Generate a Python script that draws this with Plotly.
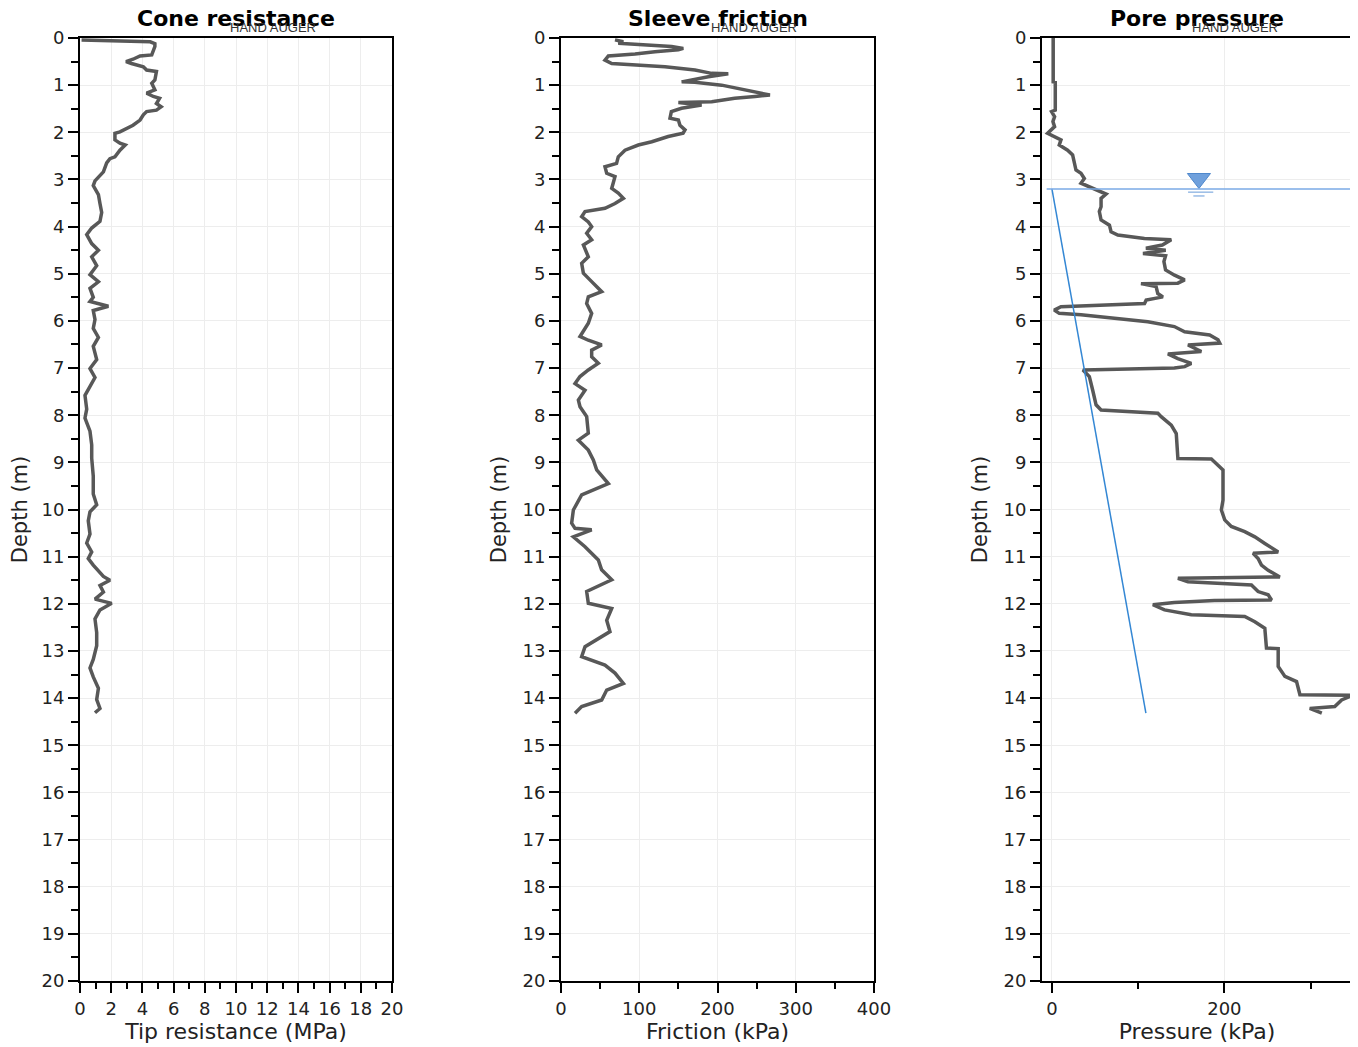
import plotly.graph_objects as go

# ---------------- data ----------------
CONE_DEPTH = [0.04, 0.06, 0.08, 0.12, 0.18, 0.36, 0.38, 0.45, 0.50, 0.54, 0.61, 0.68, 0.71, 0.89, 0.96,
              1.10, 1.17, 1.24, 1.28, 1.39, 1.46, 1.53, 1.56, 1.63, 1.74, 1.85, 1.92, 1.99, 2.02, 2.16,
              2.23, 2.27, 2.38, 2.52, 2.56, 2.65, 2.84, 3.03, 3.13, 3.32, 3.51, 3.70, 3.89, 4.03, 4.17,
              4.36, 4.50, 4.64, 4.83, 5.02, 5.17, 5.31, 5.50, 5.59, 5.69, 5.78, 5.97, 6.16, 6.35, 6.54,
              6.82, 7.01, 7.20, 7.39, 7.58, 7.87, 8.06, 8.34, 8.63, 8.91, 9.29, 9.67, 9.90, 10.05, 10.24,
              10.52, 10.71, 10.90, 11.04, 11.18, 11.42, 11.50, 11.61, 11.75, 11.90, 11.99, 12.13, 12.32,
              12.61, 12.89, 13.18, 13.36, 13.55, 13.79, 14.03, 14.22, 14.31]
CONE_QC = [0.1, 2.0, 4.5, 4.8, 4.8, 4.6, 3.85, 3.4, 2.95, 3.3, 4.06, 4.27, 4.9, 4.8, 4.6,
           4.8, 4.27, 4.7, 5.1, 4.9, 5.2, 4.9, 4.27, 4.06, 3.85, 3.4, 3.0, 2.56, 2.24, 2.24,
           2.56, 2.9, 2.56, 2.24, 1.92, 1.71, 1.5, 0.96, 0.85, 1.18, 1.28, 1.39, 1.28, 0.75, 0.43,
           0.75, 1.18, 0.75, 1.07, 0.64, 1.18, 0.64, 0.85, 0.64, 1.82, 0.85, 0.96, 0.85, 1.18, 0.85,
           1.07, 0.64, 0.96, 0.64, 0.32, 0.43, 0.32, 0.64, 0.75, 0.75, 0.85, 0.85, 1.07, 0.64, 0.53,
           0.64, 0.43, 0.75, 0.53, 0.85, 1.5, 1.92, 1.28, 1.5, 0.96, 2.03, 1.28, 0.96,
           1.07, 1.07, 0.85, 0.64, 0.85, 1.18, 1.07, 1.28, 0.96]

SLEEVE_DEPTH = [0.04, 0.08, 0.11, 0.15, 0.18, 0.22, 0.25, 0.29, 0.34, 0.38, 0.47, 0.54, 0.57, 0.61, 0.68,
                0.75, 0.76, 0.82, 0.93, 0.94, 1.00, 1.10, 1.14, 1.21, 1.24, 1.28, 1.35, 1.37, 1.42, 1.49,
                1.56, 1.70, 1.74, 1.85, 1.95, 2.02, 2.09, 2.20, 2.27, 2.38, 2.52, 2.66, 2.73, 2.87, 2.94,
                3.08, 3.19, 3.29, 3.40, 3.51, 3.61, 3.68, 3.79, 3.90, 4.00, 4.14, 4.28, 4.39, 4.64, 4.78,
                4.99, 5.13, 5.38, 5.49, 5.63, 5.84, 6.05, 6.33, 6.41, 6.51, 6.62, 6.76, 6.90, 7.04, 7.18,
                7.33, 7.47, 7.68, 7.82, 8.03, 8.38, 8.53, 8.74, 8.95, 9.16, 9.45, 9.69, 10.01, 10.29,
                10.40, 10.43, 10.58, 10.79, 11.07, 11.28, 11.49, 11.74, 11.99, 12.10, 12.35, 12.59,
                12.91, 13.12, 13.30, 13.47, 13.69, 13.83, 14.04, 14.18, 14.32]
SLEEVE_FS = [69, 79.6, 73.2, 115.9, 141.4, 156.3, 150, 120, 94.6, 60.5, 56.2, 64.8, 98.8, 132.9, 171.2,
             192.6, 213.8, 188.3, 154.2, 171, 205.3, 235, 248, 267, 248, 222, 192.6, 150, 179.7, 154,
             141, 139.3, 150, 152, 158.5, 156, 137, 116, 98.8, 81.8, 73.2, 71, 56.2, 58.4, 69,
             66.9, 64.8, 73.2, 79.7, 69, 56.2, 30.7, 26.4, 34.9, 39.2, 32.8, 39.2, 28.6, 34.9, 26.4,
             28.6, 37, 52, 34.9, 32.8, 39.2, 34.9, 24.3, 34.9, 52, 39.2, 39.2, 47.7, 34.9, 24.3,
             17.9, 30.7, 22.2, 24.3, 32.8, 34.9, 22.2, 34.9, 41.3, 45.6, 60.5, 26.4, 15.8, 13.6,
             17.9, 39.2, 15.8, 30.7, 47.7, 51.9, 64.8, 32.8, 34.9, 64.8, 58.4, 62.6,
             30.7, 26.4, 56.2, 69, 79.7, 58.4, 52, 26.4, 17.9]

PORE_DEPTH = [0.00, 0.93, 0.94, 1.53, 1.56, 1.67, 1.77, 1.88, 2.02, 2.09, 2.16, 2.27, 2.38, 2.48, 2.62,
              2.80, 2.87, 2.98, 3.08, 3.17, 3.22, 3.31, 3.40, 3.58, 3.68, 3.86, 3.97, 4.11, 4.18, 4.25,
              4.28, 4.39, 4.46, 4.50, 4.57, 4.62, 4.74, 4.92, 5.03, 5.13, 5.20, 5.21, 5.27, 5.42, 5.49,
              5.56, 5.63, 5.66, 5.70, 5.77, 5.84, 5.87, 6.02, 6.12, 6.23, 6.30, 6.40, 6.47, 6.51, 6.65,
              6.70, 6.80, 6.90, 6.97, 7.00, 7.04, 7.18, 7.47, 7.78, 7.89, 7.96, 8.03, 8.21, 8.39, 8.81,
              8.92, 8.93, 9.06, 9.16, 9.80, 10.01, 10.22, 10.36, 10.47, 10.58, 10.72, 10.90, 10.93, 11.04,
              11.18, 11.29, 11.43, 11.46, 11.53, 11.60, 11.74, 11.81, 11.92, 11.93, 11.97, 12.02, 12.13,
              12.23, 12.27, 12.38, 12.52, 12.94, 12.95, 13.33, 13.54, 13.65, 13.93, 13.94, 14.04, 14.18,
              14.22, 14.32]
PORE_U2 = [1.5, 1.5, 3.9, 3.9, -0.4, 3.1, 1.2, 3.1, -5, 3.1, 10.5, 8.5, 18.2, 24, 25.9,
           27.9, 33.7, 37.6, 33.7, 45.3, 53, 62.8, 57, 57, 55, 57, 66.7, 68.6, 76.4, 107.3,
           138.4, 128, 109, 132, 105.6, 131.8, 129.9, 131.8, 142.2, 153.9, 146, 103.3, 120.8, 122.8, 128.7,
           109.3, 107.4, 57, 10.5, 2.7, 8.5, 33.7, 111.2, 142, 153.9, 182.9, 192.6, 194.6, 157.8, 173.3,
           134.5, 146, 161.6, 153.9, 142, 36, 43.4, 47.3, 51.2, 57, 122.9, 126.7, 138.4, 144.2, 146.1,
           146.1, 184.9, 192.6, 198.4, 198.4, 196.5, 200.4, 208, 223.6, 235.3, 246.9, 262.4, 233.3, 239.1,
           243, 250.8, 264.3, 146.1, 157.7, 231.4, 239.1, 250.8, 254.7, 188.4, 141.9, 117.1, 130.6,
           161.6, 223.6, 235.3, 246.9, 248.8, 262.4, 262.4, 270.2, 283.7, 287.6, 349, 336, 328,
           299, 313]

WATER_TABLE_DEPTH = 3.2
HYDRO_DEPTH = [3.2, 14.32]
HYDRO_U = [0.0, 109.0]
WT_SYMBOL_U = 170.5

PANEL_TITLES = ["Cone resistance", "Sleeve friction", "Pore pressure"]
X_TITLES = ["Tip resistance (MPa)", "Friction (kPa)", "Pressure (kPa)"]
Y_TITLE = "Depth (m)"
NOTE = "HAND AUGER"

# ---------------- layout geometry ----------------
# page body has an 8px margin: positions are shifted by -8 to land where the reference has them
OFF = 8
W, H = 1358, 1047
px = [(80 - OFF, 392 - OFF), (561 - OFF, 874 - OFF), (1042 - OFF, 1352 - OFF)]
y_top, y_bot = 38 - OFF, 981 - OFF
ydom = [1 - y_bot / H, 1 - y_top / H]

LINE_COL = "#585858"
fig = go.Figure()
fig.add_trace(go.Scatter(x=CONE_QC, y=CONE_DEPTH, mode="lines",
                         line=dict(color=LINE_COL, width=3.5), xaxis="x", yaxis="y"))
fig.add_trace(go.Scatter(x=SLEEVE_FS, y=SLEEVE_DEPTH, mode="lines",
                         line=dict(color=LINE_COL, width=3.5), xaxis="x2", yaxis="y2"))
fig.add_trace(go.Scatter(x=PORE_U2, y=PORE_DEPTH, mode="lines",
                         line=dict(color=LINE_COL, width=3.5), xaxis="x3", yaxis="y3"))
fig.add_trace(go.Scatter(x=HYDRO_U, y=HYDRO_DEPTH, mode="lines",
                         line=dict(color="#3487d4", width=1.5), xaxis="x3", yaxis="y3"))
# water table symbol
fig.add_trace(go.Scatter(x=[WT_SYMBOL_U], y=[WATER_TABLE_DEPTH - 0.22], mode="markers",
                         marker=dict(symbol="triangle-down", size=20, color="#6fa0dc",
                                     line=dict(color="#4f88cc", width=1)),
                         xaxis="x3", yaxis="y3"))
fig.add_trace(go.Scatter(x=[WT_SYMBOL_U + 2, WT_SYMBOL_U], y=[WATER_TABLE_DEPTH + 0.07, WATER_TABLE_DEPTH + 0.15],
                         mode="markers",
                         marker=dict(symbol="line-ew", size=[18, 8], color="#6fa0dc",
                                     line=dict(color="#6fa0dc", width=1.5)),
                         xaxis="x3", yaxis="y3"))

font_main = "DejaVu Sans, Verdana, sans-serif"
common_x = dict(showline=True, mirror=True, linecolor="black", linewidth=2,
                ticks="outside", ticklen=10, tickwidth=1.5, tickcolor="black",
                showgrid=True, gridcolor="#ededed", gridwidth=1, zeroline=False,
                tickfont=dict(family=font_main, size=18, color="#222"),
                automargin=False)
common_y = dict(showline=True, mirror=True, linecolor="black", linewidth=2,
                ticks="outside", ticklen=10, tickwidth=1.5, tickcolor="black",
                showgrid=True, gridcolor="#ededed", gridwidth=1, zeroline=False,
                range=[20, 0], dtick=1, tick0=0,
                minor=dict(dtick=0.5, ticks="outside", ticklen=7, tickwidth=1.5,
                           tickcolor="black", showgrid=False),
                tickfont=dict(family=font_main, size=18, color="#222"),
                title=dict(text=Y_TITLE, standoff=10,
                           font=dict(family=font_main, size=21, color="#222")),
                automargin=False)

xranges = [[0, 20], [0, 400], [-11.5, 348]]
xdticks = [(2, 1), (100, 50), (200, 100)]
layout = dict(width=W, height=H, margin=dict(l=0, r=0, t=0, b=0),
              plot_bgcolor="white", paper_bgcolor="white", showlegend=False)
for i in range(3):
    sfx = "" if i == 0 else str(i + 1)
    xd = [px[i][0] / W, px[i][1] / W]
    ax = dict(common_x)
    ax.update(domain=xd, range=xranges[i], dtick=xdticks[i][0], tick0=0,
              minor=dict(dtick=xdticks[i][1], ticks="outside", ticklen=6, tickwidth=1.5,
                         tickcolor="black", showgrid=False),
              title=dict(text=X_TITLES[i], standoff=3,
                         font=dict(family=font_main, size=22, color="#222")),
              anchor="y" + sfx)
    ay = dict(common_y)
    ay.update(domain=ydom, anchor="x" + sfx)
    layout["xaxis" + sfx] = ax
    layout["yaxis" + sfx] = ay

annotations = []
shapes = []
for i in range(3):
    cx = (px[i][0] + px[i][1]) / 2 / W
    annotations.append(dict(text="<b>" + PANEL_TITLES[i] + "</b>", x=cx, y=1 - (18 - OFF) / H,
                            xref="paper", yref="paper", showarrow=False,
                            xanchor="center", yanchor="middle",
                            font=dict(family=font_main, size=22, color="black")))
    annotations.append(dict(text=NOTE, x=(px[i][0] + 193) / W, y=1 - (27 - OFF) / H,
                            xref="paper", yref="paper", showarrow=False,
                            xanchor="center", yanchor="middle",
                            font=dict(family="Liberation Sans, Arial, sans-serif", size=13, color="#333")))
shapes.append(dict(type="line", xref="x3 domain", yref="y3", x0=0.015, x1=1,
                   y0=WATER_TABLE_DEPTH, y1=WATER_TABLE_DEPTH,
                   line=dict(color="#7aaae6", width=1.5), layer="above"))
layout["annotations"] = annotations
layout["shapes"] = shapes
fig.update_layout(**layout)
fig.write_html("out.html")
